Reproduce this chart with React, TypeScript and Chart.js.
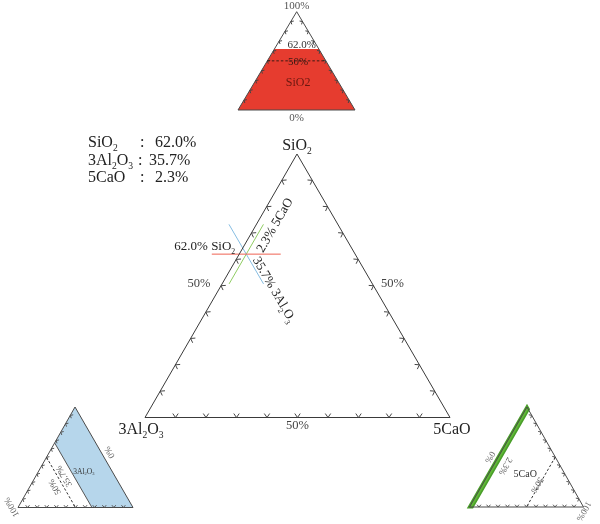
import React, { useEffect, useRef } from 'react';
import { Chart, registerables } from 'chart.js';

Chart.register(...registerables);

const FONT = '"Liberation Serif", "DejaVu Serif", serif';

// ---------------- data ----------------
const componentNames = ['SiO_2', '3Al_2O_3', '5CaO'];
const compositionPct = [62.0, 35.7, 2.3];
const gridPct = [10, 20, 30, 40, 50, 60, 70, 80, 90];
const midPct = 50;
const edgeTickLabels = ['0%', '50%', '100%'];
const miniTopDivisions = 10;
const miniBottomDivisions = 12;
const crossHalfPct = 11.3;

// ---------------- layout ----------------
type P = { x: number; y: number };
type Tri = { top: P; left: P; right: P };

const MAIN: Tri = { top: { x: 297, y: 154 }, left: { x: 145, y: 417.5 }, right: { x: 450, y: 417.5 } };
const MINI_SI: Tri = { top: { x: 296.7, y: 11.7 }, left: { x: 238, y: 110 }, right: { x: 355, y: 110 } };
const MINI_AL: Tri = { top: { x: 75, y: 407 }, left: { x: 18, y: 507.5 }, right: { x: 133, y: 507.5 } };
const MINI_CA: Tri = { top: { x: 527, y: 407 }, left: { x: 469.5, y: 507 }, right: { x: 583.5, y: 507 } };

function tern(t: Tri, a: number, b: number, c: number): P {
  const s = a + b + c;
  return {
    x: (a * t.top.x + b * t.left.x + c * t.right.x) / s,
    y: (a * t.top.y + b * t.left.y + c * t.right.y) / s,
  };
}

const outline = (t: Tri) => [tern(t, 100, 0, 0), tern(t, 0, 100, 0), tern(t, 0, 0, 100), tern(t, 100, 0, 0)];

const [SI, AL, CA] = compositionPct;
const H = crossHalfPct;
const isoSi = [tern(MAIN, SI, AL + H, CA - H), tern(MAIN, SI, AL - H, CA + H)];
const isoAl = [tern(MAIN, SI + H, AL, CA - H), tern(MAIN, SI - H, AL, CA + H)];
const isoCa = [tern(MAIN, SI + H, AL - H, CA), tern(MAIN, SI - H, AL + H, CA)];

function drawRich(
  ctx: CanvasRenderingContext2D,
  text: string,
  x: number,
  y: number,
  size: number,
  opts: { align?: 'left' | 'center' | 'right'; color?: string; rot?: number; baseline?: CanvasTextBaseline } = {}
) {
  const parts: { t: string; sub: boolean }[] = [];
  for (let i = 0; i < text.length; i++) {
    if (text[i] === '_' && i + 1 < text.length) {
      parts.push({ t: text[i + 1], sub: true });
      i++;
    } else {
      const last = parts[parts.length - 1];
      if (last && !last.sub) last.t += text[i];
      else parts.push({ t: text[i], sub: false });
    }
  }
  const subSize = size * 0.6;
  let w = 0;
  const widths = parts.map((p) => {
    ctx.font = `${p.sub ? subSize : size}px ${FONT}`;
    const m = ctx.measureText(p.t).width;
    w += m;
    return m;
  });
  ctx.save();
  ctx.translate(x, y);
  ctx.rotate(opts.rot || 0);
  ctx.fillStyle = opts.color || '#222';
  ctx.textBaseline = opts.baseline || 'alphabetic';
  ctx.textAlign = 'left';
  const align = opts.align || 'left';
  let cx = align === 'center' ? -w / 2 : align === 'right' ? -w : 0;
  parts.forEach((p, i) => {
    ctx.font = `${p.sub ? subSize : size}px ${FONT}`;
    ctx.fillText(p.t, cx, p.sub ? size * 0.28 : 0);
    cx += widths[i];
  });
  ctx.restore();
}

const decor = {
  id: 'ternaryDecor',
  beforeDatasetsDraw(chart: any) {
    const ctx: CanvasRenderingContext2D = chart.ctx;
    const xs = chart.scales.x;
    const ys = chart.scales.y;
    const tp = (p: P) => ({ x: xs.getPixelForValue(p.x), y: ys.getPixelForValue(p.y) });
    const poly = (pts: P[], fill: string, stroke?: string, lw = 1) => {
      ctx.save();
      ctx.beginPath();
      pts.map(tp).forEach((p, i) => (i ? ctx.lineTo(p.x, p.y) : ctx.moveTo(p.x, p.y)));
      ctx.closePath();
      if (stroke) {
        ctx.strokeStyle = stroke;
        ctx.lineWidth = lw;
        ctx.lineJoin = 'miter';
        ctx.stroke();
      }
      ctx.fillStyle = fill;
      ctx.fill();
      ctx.restore();
    };
    // SiO2 (top) : region SiO2 <= value
    poly(
      [tern(MINI_SI, SI, 100 - SI, 0), tern(MINI_SI, SI, 0, 100 - SI), tern(MINI_SI, 0, 0, 100), tern(MINI_SI, 0, 100, 0)],
      '#e63c2f'
    );
    // 3Al2O3 (bottom left): region Al <= value
    poly(
      [tern(MINI_AL, 100 - AL, AL, 0), tern(MINI_AL, 100, 0, 0), tern(MINI_AL, 0, 0, 100), tern(MINI_AL, 0, AL, 100 - AL)],
      '#b6d6eb'
    );
    // 5CaO (bottom right): region Ca <= value
    poly(
      [tern(MINI_CA, 100, 0, 0), tern(MINI_CA, 100 - CA, 0, CA), tern(MINI_CA, 0, 100 - CA, CA), tern(MINI_CA, 0, 100, 0)],
      '#5fb836',
      '#4a9e2a',
      3.2
    );
  },
  afterDatasetsDraw(chart: any) {
    const ctx: CanvasRenderingContext2D = chart.ctx;
    const xs = chart.scales.x;
    const ys = chart.scales.y;
    const tp = (p: P) => ({ x: xs.getPixelForValue(p.x), y: ys.getPixelForValue(p.y) });

    const line = (a: P, b: P, color: string, lw = 1, dash: number[] = []) => {
      const pa = tp(a);
      const pb = tp(b);
      ctx.save();
      ctx.strokeStyle = color;
      ctx.lineWidth = lw;
      ctx.setLineDash(dash);
      ctx.beginPath();
      ctx.moveTo(pa.x, pa.y);
      ctx.lineTo(pb.x, pb.y);
      ctx.stroke();
      ctx.restore();
    };

    const edgeTicks = (t: Tri, e1: P, e2: P, pcts: number[], size: number, half: number, color: string) => {
      const g = tp(tern(t, 1, 1, 1));
      const a = tp(e1);
      const b = tp(e2);
      const len = Math.hypot(b.x - a.x, b.y - a.y);
      const d = { x: (b.x - a.x) / len, y: (b.y - a.y) / len };
      let n = { x: -d.y, y: d.x };
      if ((g.x - a.x) * n.x + (g.y - a.y) * n.y < 0) n = { x: -n.x, y: -n.y };
      const c = Math.cos(half);
      const s = Math.sin(half);
      ctx.save();
      ctx.strokeStyle = color;
      ctx.lineWidth = 1;
      pcts.forEach((p) => {
        const q = { x: a.x + (b.x - a.x) * p / 100, y: a.y + (b.y - a.y) * p / 100 };
        ctx.beginPath();
        ctx.moveTo(q.x + size * (n.x * c + d.x * s), q.y + size * (n.y * c + d.y * s));
        ctx.lineTo(q.x, q.y);
        ctx.lineTo(q.x + size * (n.x * c - d.x * s), q.y + size * (n.y * c - d.y * s));
        ctx.stroke();
      });
      ctx.restore();
    };

    const divPcts = (n: number) => Array.from({ length: n - 1 }, (_, k) => (100 * (k + 1)) / n);

    // main ticks
    const mt = MAIN;
    edgeTicks(mt, mt.top, mt.left, gridPct, 4.8, 0.6, '#444');
    edgeTicks(mt, mt.top, mt.right, gridPct, 4.8, 0.6, '#444');
    edgeTicks(mt, mt.left, mt.right, gridPct, 4.8, 0.6, '#444');

    // mini ticks
    const topP = divPcts(miniTopDivisions);
    edgeTicks(MINI_SI, MINI_SI.top, MINI_SI.left, topP, 3, 0.7, '#444');
    edgeTicks(MINI_SI, MINI_SI.top, MINI_SI.right, topP, 3, 0.7, '#444');
    const botP = divPcts(miniBottomDivisions);
    edgeTicks(MINI_AL, MINI_AL.top, MINI_AL.left, botP, 3, 0.7, '#555');
    edgeTicks(MINI_AL, MINI_AL.left, MINI_AL.right, botP, 3, 0.7, '#555');
    edgeTicks(MINI_CA, MINI_CA.top, MINI_CA.right, botP, 3, 0.7, '#555');
    edgeTicks(MINI_CA, MINI_CA.left, MINI_CA.right, botP, 3, 0.7, '#555');

    // dashed 50% lines
    const dash = [2.5, 2];
    line(tern(MINI_SI, midPct, 100 - midPct, 0), tern(MINI_SI, midPct, 0, 100 - midPct), '#3a1a14', 1, dash);
    line(tern(MINI_AL, 100 - midPct, midPct, 0), tern(MINI_AL, 0, midPct, 100 - midPct), '#333', 1, dash);
    line(tern(MINI_CA, 100 - midPct, 0, midPct), tern(MINI_CA, 0, 100 - midPct, midPct), '#333', 1, dash);
    // blue band boundary
    line(tern(MINI_AL, 100 - AL, AL, 0), tern(MINI_AL, 0, AL, 100 - AL), '#555', 1);

    // ---------- texts ----------
    const pct = (v: number) => `${v.toFixed(1)}%`;

    // legend block
    const rowsY = [147, 164.5, 182];
    const colonX = [140, 138, 140];
    const valueX = [155, 149, 155];
    componentNames.forEach((nm, i) => {
      const y = ys.getPixelForValue(rowsY[i]);
      drawRich(ctx, nm, xs.getPixelForValue(88), y, 16, { color: '#222' });
      drawRich(ctx, ':', xs.getPixelForValue(colonX[i]), y, 16, { color: '#222' });
      drawRich(ctx, pct(compositionPct[i]), xs.getPixelForValue(valueX[i]), y, 16, { color: '#222' });
    });

    // vertex labels
    const vT = tp(MAIN.top);
    const vL = tp(MAIN.left);
    const vR = tp(MAIN.right);
    drawRich(ctx, componentNames[0], vT.x, vT.y - 4, 16, { align: 'center' });
    drawRich(ctx, componentNames[1], vL.x - 4, vL.y + 16.5, 16, { align: 'center' });
    drawRich(ctx, componentNames[2], vR.x + 2, vR.y + 16.5, 16, { align: 'center' });

    // 50% edge labels
    const mL = tp(tern(MAIN, 100 - midPct, midPct, 0));
    const mR = tp(tern(MAIN, 100 - midPct, 0, midPct));
    const mB = tp(tern(MAIN, 0, 100 - midPct, midPct));
    drawRich(ctx, edgeTickLabels[1], mL.x - 22, mL.y - 2, 12.5, { align: 'center', baseline: 'middle', color: '#444' });
    drawRich(ctx, edgeTickLabels[1], mR.x + 19, mR.y - 2, 12.5, { align: 'center', baseline: 'middle', color: '#444' });
    drawRich(ctx, edgeTickLabels[1], mB.x, mB.y + 11, 12.5, { align: 'center', color: '#444' });

    // composition labels
    const P0 = tp(tern(MAIN, SI, AL, CA));
    drawRich(ctx, `${pct(SI)} ${componentNames[0]}`, P0.x - 11, P0.y - 4, 13, { align: 'right' });
    const g0 = tp(isoCa[0]);
    const g1 = tp(isoCa[1]);
    let gl = Math.hypot(g0.x - g1.x, g0.y - g1.y);
    const uG = { x: (g0.x - g1.x) / gl, y: (g0.y - g1.y) / gl };
    const nG = { x: -uG.y, y: uG.x };
    drawRich(ctx, `${pct(CA)} ${componentNames[2]}`, P0.x + 9 * uG.x + 14 * nG.x, P0.y + 9 * uG.y + 14 * nG.y, 13, {
      rot: Math.atan2(uG.y, uG.x),
    });
    const b0 = tp(isoAl[0]);
    const b1 = tp(isoAl[1]);
    gl = Math.hypot(b1.x - b0.x, b1.y - b0.y);
    const uB = { x: (b1.x - b0.x) / gl, y: (b1.y - b0.y) / gl };
    const dB = { x: -uB.y, y: uB.x };
    drawRich(ctx, `${pct(AL)} ${componentNames[1]}`, P0.x + 8 * uB.x - 2.5 * dB.x, P0.y + 8 * uB.y - 2.5 * dB.y, 13, {
      rot: Math.atan2(uB.y, uB.x),
    });

    // top mini labels
    const sT = tp(MINI_SI.top);
    const sB = tp(tern(MINI_SI, 0, 50, 50));
    drawRich(ctx, edgeTickLabels[2], sT.x, sT.y - 2.5, 11, { align: 'center', color: '#555' });
    drawRich(ctx, edgeTickLabels[0], sB.x, sB.y + 10.5, 11, { align: 'center', color: '#555' });
    const sV = tp(tern(MINI_SI, SI, (100 - SI) / 2, (100 - SI) / 2));
    drawRich(ctx, pct(SI), sV.x + 5, sV.y - 1.5, 11, { align: 'center', color: '#333' });
    const sM = tp(tern(MINI_SI, midPct, (100 - midPct) / 2, (100 - midPct) / 2));
    drawRich(ctx, edgeTickLabels[1], sM.x + 1.5, sM.y + 1, 11, { align: 'center', baseline: 'middle', color: '#3a1a14' });
    drawRich(ctx, 'SiO2', sM.x + 1.5, sM.y + 22, 12, { align: 'center', baseline: 'middle', color: '#6a1810' });

    // bottom-left mini labels (3Al2O3)
    const rotBL = (240 * Math.PI) / 180;
    const aC = tp(MINI_AL.left);
    drawRich(ctx, edgeTickLabels[2], aC.x - 6, aC.y - 0.5, 9, { align: 'center', baseline: 'middle', rot: rotBL, color: '#666' });
    const aR = tp(tern(MINI_AL, 50, 0, 50));
    drawRich(ctx, edgeTickLabels[0], aR.x + 6, aR.y - 5, 9, { align: 'center', baseline: 'middle', rot: rotBL, color: '#666' });
    const aV = tp(tern(MINI_AL, (100 - AL) / 2, AL, (100 - AL) / 2));
    drawRich(ctx, pct(AL), aV.x - 9, aV.y + 1, 9, { align: 'center', baseline: 'middle', rot: rotBL, color: '#555' });
    const aM = tp(tern(MINI_AL, (100 - midPct) / 2, midPct, (100 - midPct) / 2));
    drawRich(ctx, edgeTickLabels[1], aM.x - 6, aM.y + 4.5, 9, { align: 'center', baseline: 'middle', rot: rotBL, color: '#555' });
    drawRich(ctx, componentNames[1], aV.x + 10.5, aV.y - 3.5, 7.5, { align: 'center', baseline: 'middle', color: '#333' });

    // bottom-right mini labels (5CaO)
    const rotBR = (120 * Math.PI) / 180;
    const cC = tp(MINI_CA.right);
    drawRich(ctx, edgeTickLabels[2], cC.x, cC.y + 4, 9, { align: 'center', baseline: 'middle', rot: rotBR, color: '#666' });
    const cL = tp(tern(MINI_CA, 50, 50, 0));
    drawRich(ctx, edgeTickLabels[0], cL.x - 8.5, cL.y, 9, { align: 'center', baseline: 'middle', rot: rotBR, color: '#666' });
    const cV = tp(tern(MINI_CA, (100 - CA) / 2, (100 - CA) / 2, CA));
    drawRich(ctx, pct(CA), cV.x + 5, cV.y + 8, 9, { align: 'center', baseline: 'middle', rot: rotBR, color: '#555' });
    const cM = tp(tern(MINI_CA, (100 - midPct) / 2, (100 - midPct) / 2, midPct));
    drawRich(ctx, edgeTickLabels[1], cM.x - 4, cM.y + 3, 9, { align: 'center', baseline: 'middle', rot: rotBR, color: '#555' });
    drawRich(ctx, componentNames[2], cV.x + 25, cV.y + 16, 10, { align: 'center', baseline: 'middle', color: '#333' });
  },
};

export default function App() {
  const ref = useRef<HTMLCanvasElement | null>(null);
  useEffect(() => {
    if (!ref.current) return;
    const lineDs = (data: P[], color: string, width = 1) => ({
      data,
      showLine: true,
      borderColor: color,
      backgroundColor: color,
      borderWidth: width,
      pointRadius: 0,
      fill: false,
      tension: 0,
    });
    const chart = new Chart(ref.current, {
      type: 'scatter',
      data: {
        datasets: [
          lineDs(outline(MAIN), '#3a3a3a'),
          lineDs(outline(MINI_SI), '#4a4a4a'),
          lineDs(outline(MINI_AL), '#4a4a4a'),
          lineDs(outline(MINI_CA), '#4a4a4a'),
          lineDs(isoSi, '#ef6252'),
          lineDs(isoAl, '#86bde2'),
          lineDs(isoCa, '#8fcc62'),
        ] as any,
      },
      options: {
        animation: false,
        responsive: false,
        maintainAspectRatio: false,
        layout: { padding: 0 },
        plugins: { legend: { display: false }, tooltip: { enabled: false } },
        events: [],
        scales: {
          x: { type: 'linear', min: 0, max: 600, display: false },
          y: { type: 'linear', min: 0, max: 524, reverse: true, display: false },
        },
      },
      plugins: [decor],
    });
    return () => chart.destroy();
  }, []);
  return (
    <div style={{ position: 'fixed', left: 0, top: 0, width: 600, height: 524, background: '#fff' }}>
      <canvas ref={ref} width={600} height={524} style={{ display: 'block', width: 600, height: 524 }} />
    </div>
  );
}
